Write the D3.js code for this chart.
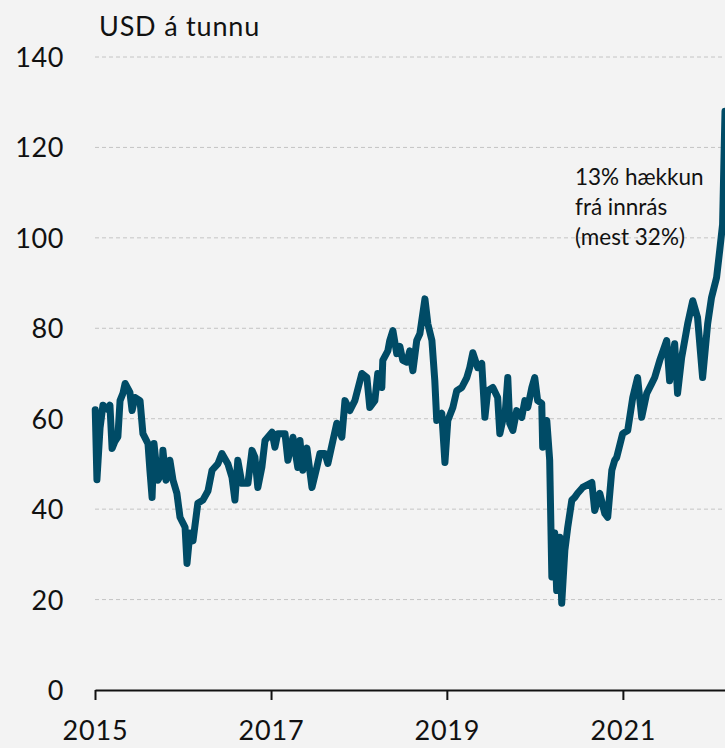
<!DOCTYPE html>
<html>
<head>
<meta charset="utf-8">
<script src="https://cdn.jsdelivr.net/npm/d3@7"></script>
<style>
html,body{margin:0;padding:0;background:#f3f3f3;}
svg{display:block;}
text{font-family:Lato,"Open Sans",sans-serif;fill:#111;}
</style>
</head>
<body>
<svg id="chart" width="725" height="748"></svg>
<script>
const unitLabel = "USD á tunnu";
const annotationLines = ["13% hækkun", "frá innrás", "(mest 32%)"];
const yTicks = [0, 20, 40, 60, 80, 100, 120, 140];
const xTickYears = [2015, 2017, 2019, 2021];

const dates = [
"2015-01-02","2015-01-09","2015-01-22","2015-02-03","2015-02-24","2015-03-04","2015-03-13","2015-03-25","2015-04-06","2015-04-15",
"2015-04-27","2015-05-06","2015-05-26","2015-06-04","2015-06-16","2015-07-07","2015-07-19","2015-08-09","2015-08-17","2015-08-26",
"2015-09-03","2015-09-19","2015-10-06","2015-10-10","2015-10-23","2015-11-08","2015-11-21","2015-12-07","2015-12-20","2016-01-10",
"2016-01-18","2016-01-30","2016-02-12","2016-03-03","2016-03-24","2016-04-14","2016-05-01","2016-05-25","2016-06-11","2016-07-06",
"2016-07-23","2016-08-04","2016-08-16","2016-09-02","2016-09-27","2016-10-14","2016-10-26","2016-11-07","2016-11-24","2016-12-07",
"2017-01-05","2017-01-17","2017-01-29","2017-02-28","2017-03-12","2017-04-02","2017-04-22","2017-05-01","2017-05-13","2017-05-30",
"2017-06-20","2017-07-10","2017-07-23","2017-08-13","2017-08-25","2017-09-15","2017-10-01","2017-10-22","2017-11-04","2017-11-24",
"2017-12-15","2018-01-13","2018-02-03","2018-02-15","2018-03-08","2018-03-20","2018-04-06","2018-04-10","2018-05-01","2018-05-09",
"2018-05-22","2018-06-07","2018-06-20","2018-07-02","2018-07-19","2018-07-31","2018-08-13","2018-08-29","2018-09-11","2018-10-02",
"2018-10-14","2018-10-31","2018-11-12","2018-11-20","2018-12-11","2018-12-24","2019-01-05","2019-01-26","2019-02-11","2019-03-04",
"2019-03-25","2019-04-06","2019-04-19","2019-05-09","2019-05-26","2019-06-08","2019-06-20","2019-07-11","2019-07-31","2019-08-09",
"2019-08-21","2019-08-30","2019-09-11","2019-09-19","2019-10-02","2019-10-18","2019-11-08","2019-11-21","2019-12-03","2019-12-20",
"2020-01-01","2020-01-13","2020-01-30","2020-02-03","2020-02-20","2020-03-03","2020-03-12","2020-03-24","2020-04-01","2020-04-14",
"2020-04-22","2020-05-05","2020-05-17","2020-06-03","2020-06-15","2020-06-27","2020-07-18","2020-08-25","2020-09-06","2020-09-27",
"2020-10-18","2020-10-30","2020-11-16","2020-11-28","2020-12-06","2020-12-31","2021-01-21","2021-02-11","2021-03-03","2021-03-20",
"2021-04-10","2021-05-01","2021-05-13","2021-06-03","2021-07-02","2021-07-14","2021-08-04","2021-08-16","2021-09-02","2021-09-27",
"2021-10-18","2021-11-07","2021-11-28","2021-12-19","2022-01-04","2022-01-25","2022-02-07","2022-02-19","2022-03-01"
];
const prices = [
62,46.5,58,63,62,63,53.4,55,56,64,
65.6,67.8,65.8,61.8,64.7,64,56.7,54.5,48.6,42.6,
54.5,46.4,48,53,46.4,50.8,46.4,43.5,38.2,36,
28,34.7,33,41.3,42,44,48.6,50,52.3,50,
47,42,50.8,45.7,45.7,53,51.5,44.8,49.3,55.2,
57,53.7,56.7,56.7,50.8,55.9,49.2,55.2,48.6,53.5,
44.8,49.2,52.3,52.3,50.1,55.2,59,55.9,64,61.8,
64,70,69.1,62.5,64,70,66.9,72.9,75,77.3,
79.5,74.4,76,72.9,72.5,75,70.6,77.3,78.8,86.5,
81,77.3,68.4,59.6,61.2,50.3,59.6,62.5,66.2,66.9,
69.1,71.3,74.6,71.3,72.2,60.3,66.2,66.9,64.7,56.7,
59.6,60.3,69.1,59,57.4,61.8,60.3,64,62.5,66.9,
69.1,64,63.4,53.7,59.6,50.8,25,34.7,22,33.8,
19.2,30.9,36,42,42.6,43.5,44.8,45.9,39.7,43.5,
39,38.2,48.6,50.8,51.4,56.7,57.4,64.7,69.1,60.3,
65.6,67.8,69.1,72.9,77.3,68.4,76.6,65.6,73.5,81,
86.1,82.4,69.1,81,86.8,91.2,97.2,103,128
];

const parse = d3.timeParse("%Y-%m-%d");
const data = dates.map((d, i) => ({date: parse(d), value: prices[i]}));

const svg = d3.select("#chart");
const x = d3.scaleTime()
  .domain([new Date(2015, 0, 1), new Date(2022, 2, 1)])
  .range([95, 725]);
const y = d3.scaleLinear().domain([0, 140]).range([690, 57]);

svg.append("rect").attr("width", 725).attr("height", 748).attr("fill", "#f3f3f3");

// gridlines
svg.append("g")
  .selectAll("line")
  .data(yTicks.filter(t => t > 0))
  .join("line")
  .attr("x1", 95).attr("x2", 725)
  .attr("y1", d => y(d)).attr("y2", d => y(d))
  .attr("stroke", "#c4c4c4")
  .attr("stroke-width", 1)
  .attr("stroke-dasharray", "4,3");

// y axis labels
const yAxis = d3.axisLeft(y).tickValues(yTicks).tickSize(0).tickPadding(0);
const gy = svg.append("g").attr("transform", "translate(64,0)").call(yAxis);
gy.select(".domain").remove();
gy.selectAll("text")
  .attr("font-size", 27)
  .attr("letter-spacing", 0.6)
  .attr("font-family", "Lato, 'Open Sans', sans-serif")
  .attr("fill", "#111")
  .attr("dy", "0.35em");

// x axis
const xAxis = d3.axisBottom(x)
  .tickValues(xTickYears.map(yr => new Date(yr, 0, 1)))
  .tickFormat(d3.timeFormat("%Y"))
  .tickSize(10)
  .tickSizeOuter(0)
  .tickPadding(21);
const gx = svg.append("g").attr("transform", "translate(0,690)").call(xAxis);
gx.select(".domain").attr("stroke", "#111").attr("stroke-width", 2);
gx.selectAll(".tick line").attr("stroke", "#111").attr("stroke-width", 2);
gx.selectAll("text")
  .attr("font-size", 27)
  .attr("letter-spacing", 0.8)
  .attr("font-family", "Lato, 'Open Sans', sans-serif")
  .attr("fill", "#111");

// line
const line = d3.line().x(d => x(d.date)).y(d => y(d.value));
svg.append("path")
  .datum(data)
  .attr("d", line)
  .attr("fill", "none")
  .attr("stroke", "#004b66")
  .attr("stroke-width", 7)
  .attr("stroke-linejoin", "round")
  .attr("stroke-linecap", "round");

// unit label
svg.append("text")
  .attr("x", 99).attr("y", 36)
  .attr("font-size", 27)
  .attr("letter-spacing", 0.8)
  .text(unitLabel);

// annotation
const ann = svg.append("text").attr("x", 575).attr("y", 185).attr("font-size", 22.5);
annotationLines.forEach((t, i) => {
  ann.append("tspan").attr("x", 575).attr("y", 185 + i * 30).text(t);
});
</script>
</body>
</html>
